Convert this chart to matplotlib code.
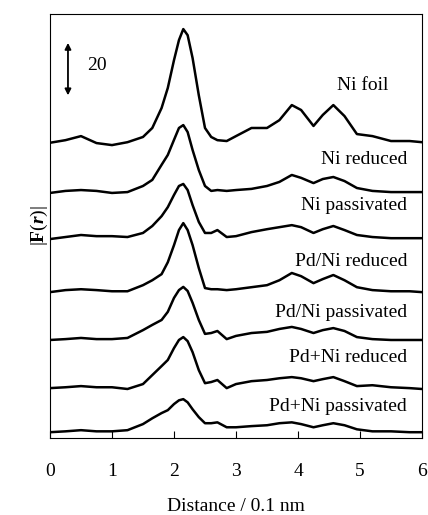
import numpy as np
import matplotlib
matplotlib.use('Agg')
import matplotlib.pyplot as plt

plt.rcParams['font.family'] = ['Liberation Serif', 'DejaVu Serif']
plt.rcParams['mathtext.fontset'] = 'custom'
plt.rcParams['mathtext.rm'] = 'Liberation Serif'
plt.rcParams['mathtext.bf'] = 'Liberation Serif:bold'
plt.rcParams['mathtext.bfit'] = 'Liberation Serif:italic:bold'

# distance / 0.1 nm
r = [0, 0.25, 0.5, 0.75, 1.0, 1.25, 1.5, 1.65, 1.8, 1.9, 2.0, 2.08, 2.15, 2.22,
     2.3, 2.4, 2.5, 2.6, 2.7, 2.85, 3.0, 3.25, 3.5, 3.7, 3.9, 4.05, 4.25, 4.4,
     4.57, 4.75, 4.95, 5.2, 5.5, 5.8, 6.0]

ni_foil = [2.0, 2.9, 4.3, 1.9, 1.2, 2.2, 4.0, 7.1, 14.0, 20.9, 30.5, 37.4, 41.2, 39.1,
           31.2, 18.4, 7.1, 4.0, 2.9, 2.6, 4.3, 7.1, 7.1, 9.8, 15.0, 13.3, 7.8, 11.6,
           15.0, 11.2, 5.0, 4.3, 2.6, 2.6, 2.2]
ni_red = [2.0, 2.7, 3.0, 2.7, 2.0, 2.3, 4.4, 6.5, 11.7, 15.1, 20.3, 24.4, 25.4, 23.0,
          16.8, 9.9, 4.4, 2.7, 3.0, 2.7, 3.0, 3.4, 4.4, 5.8, 8.2, 7.2, 5.4, 6.8,
          7.5, 6.1, 3.7, 2.7, 2.3, 2.3, 2.3]
ni_pas = [2.0, 2.7, 3.4, 3.0, 3.0, 2.7, 4.1, 6.5, 9.9, 13.0, 17.2, 20.3, 21.0, 18.9,
          13.7, 7.9, 4.1, 4.1, 5.1, 2.7, 3.0, 4.4, 5.4, 6.1, 6.8, 6.1, 4.1, 5.4,
          6.5, 5.1, 3.4, 2.7, 2.3, 2.3, 2.3]
pdni_red = [2.0, 2.7, 3.0, 2.7, 2.3, 2.3, 4.4, 6.1, 8.2, 12.3, 18.2, 23.4, 25.8, 23.4,
            18.2, 10.3, 3.4, 3.0, 3.0, 2.7, 3.0, 3.7, 4.4, 6.1, 8.6, 7.5, 5.1, 6.5,
            7.9, 6.1, 3.7, 2.7, 2.3, 2.3, 2.0]
pdni_pas = [2.0, 2.3, 2.7, 2.3, 2.3, 2.7, 5.4, 7.2, 8.9, 11.7, 16.5, 19.2, 20.3, 18.9,
            14.8, 8.9, 4.1, 4.4, 5.1, 2.3, 3.4, 4.4, 4.8, 5.8, 6.5, 5.8, 4.4, 5.4,
            6.1, 5.1, 3.0, 2.3, 2.0, 2.0, 2.0]
pdpni_red = [2.0, 2.3, 2.7, 2.3, 2.3, 1.7, 3.4, 6.5, 9.6, 11.7, 15.8, 18.6, 19.6, 18.2,
             14.4, 8.2, 3.7, 4.1, 4.8, 2.0, 3.4, 4.4, 4.8, 5.4, 5.8, 5.4, 4.4, 5.1,
             5.8, 4.4, 2.7, 3.0, 2.3, 2.0, 1.7]
pdpni_pas = [2.0, 2.3, 2.7, 2.3, 2.3, 2.7, 4.8, 6.8, 8.6, 9.6, 11.7, 13.0, 13.4, 12.3,
             9.9, 7.2, 5.1, 5.1, 5.4, 3.7, 3.7, 4.1, 4.4, 5.1, 5.4, 4.8, 3.7, 4.4,
             5.1, 4.4, 3.0, 2.3, 2.3, 2.0, 2.0]

labels = ['Ni foil', 'Ni reduced', 'Ni passivated', 'Pd/Ni reduced',
          'Pd/Ni passivated', 'Pd+Ni reduced', 'Pd+Ni passivated']
series = [ni_foil, ni_red, ni_pas, pdni_red, pdni_pas, pdpni_red, pdpni_pas]
offsets = [99.8, 82.5, 66.6, 48.3, 31.8, 15.2, 0.0]
label_dy = [21.9, 13.4, 13.4, 12.4, 11.6, 12.7, 10.7]

fig = plt.figure(figsize=(4.28, 5.15), dpi=100)
ax = fig.add_axes([0.1168, 0.1495, 0.8692, 0.8233])

for name, vals, off, dy in zip(labels, series, offsets, label_dy):
    ax.plot(r, np.array(vals) + off, color='black', lw=1.8, solid_joinstyle='round')
    lx = 5.45 if name == 'Ni foil' else 5.76
    ax.text(lx, off + dy, name, ha='right', va='center', fontsize=14)

# scale bar
ax.annotate('', xy=(0.29, 137.2), xytext=(0.29, 117.2),
            arrowprops=dict(arrowstyle='<|-|>', color='black', lw=1.3,
                            mutation_scale=9))
ax.text(0.6, 128.3, '20', ha='left', va='center', fontsize=14)

ax.set_xlim(0, 6)
ax.set_ylim(0, 146.2)
ax.set_xticks(range(7))
ax.set_yticks([])
ax.tick_params(axis='x', direction='in', length=5, width=0.8, pad=18, labelsize=14)
for s in ax.spines.values():
    s.set_linewidth(0.8)
ax.set_xlabel('Distance / 0.1 nm', fontsize=14, labelpad=13)
ax.set_ylabel(r'$|\mathbf{F}(\mathbfit{r})|$', fontsize=14, labelpad=0)

fig.savefig('out.png', dpi=100)
